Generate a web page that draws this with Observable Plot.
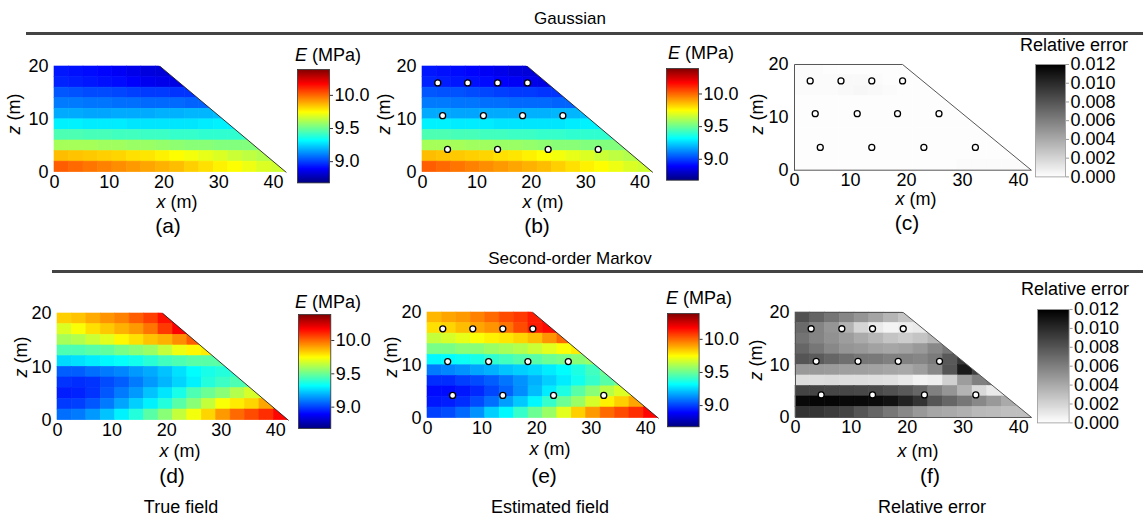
<!DOCTYPE html>
<html><head><meta charset="utf-8">
<script src="https://cdn.jsdelivr.net/npm/d3@7"></script>
<script src="https://cdn.jsdelivr.net/npm/@observablehq/plot@0.6"></script>
<style>
body{margin:0;background:#fff;}
#fig{position:relative;width:1143px;height:518px;font-family:"Liberation Sans",Arial,sans-serif;color:#000;overflow:hidden;background:#fff}
.t{position:absolute;white-space:nowrap;line-height:1}
.rule{position:absolute;height:3px;background:#444}
</style></head><body><div id="fig"></div>
<script>
// ---------- data ----------
const xTicks = [0, 10, 20, 30, 40];
const zTicks = [0, 10, 20];
const eTicks = [9.0, 9.5, 10.0];
const errTicks = [0, 0.002, 0.004, 0.006, 0.008, 0.010, 0.012];
const eDomain = [8.68, 10.39];
const errDomain = [0, 0.012];
const jetColors = ["#00007f", "#0000ff", "#00ffff", "#ffff00", "#ff0000", "#7f0000"];
const jetStops = [0, 0.125, 0.375, 0.625, 0.875, 1];
const greyColors = ["#ffffff", "#000000"];
const crestX = 19.3, toeX = 42.3, damH = 20, nCols = 16, rowH = 2;
const stationX = [2.8, 8.3, 13.8, 19.3, 3.7, 11.2, 18.4, 25.8, 4.6, 13.8, 23.1, 32.3];
const stationZ = [16.9, 16.9, 16.9, 16.9, 10.7, 10.7, 10.7, 10.7, 4.3, 4.3, 4.3, 4.3];

// rows listed from top (z 18-20) to bottom (z 0-2), columns from x = 0
const gaussTrue = [
  [8.93, 8.92, 8.91, 8.90, 8.88, 8.86, 8.84, 8.83, 8.82],
  [8.95, 8.94, 8.93, 8.92, 8.91, 8.89, 8.87, 8.86, 8.85, 8.85],
  [9.04, 9.03, 9.02, 9.02, 9.01, 9.00, 8.99, 8.99, 8.98, 8.98],
  [9.10, 9.10, 9.09, 9.09, 9.08, 9.08, 9.07, 9.07, 9.07, 9.06, 9.06],
  [9.18, 9.18, 9.17, 9.17, 9.18, 9.18, 9.18, 9.19, 9.19, 9.20, 9.20, 9.21],
  [9.30, 9.30, 9.29, 9.29, 9.29, 9.28, 9.28, 9.28, 9.28, 9.28, 9.29, 9.30, 9.30],
  [9.45, 9.45, 9.44, 9.44, 9.43, 9.43, 9.42, 9.42, 9.41, 9.41, 9.40, 9.40, 9.40, 9.41],
  [9.60, 9.60, 9.60, 9.59, 9.59, 9.58, 9.58, 9.57, 9.56, 9.55, 9.55, 9.54, 9.54, 9.54, 9.55],
  [9.86, 9.85, 9.84, 9.83, 9.82, 9.80, 9.79, 9.77, 9.75, 9.73, 9.71, 9.69, 9.66, 9.64, 9.62, 9.60],
  [10.02, 10.00, 9.98, 9.96, 9.94, 9.92, 9.90, 9.88, 9.86, 9.83, 9.80, 9.77, 9.75, 9.72, 9.69, 9.67]
];
const gaussEst = [
  [8.93, 8.92, 8.91, 8.90, 8.88, 8.86, 8.84, 8.83, 8.82],
  [8.95, 8.94, 8.93, 8.92, 8.91, 8.89, 8.88, 8.86, 8.85, 8.85],
  [9.04, 9.03, 9.03, 9.02, 9.01, 9.00, 8.99, 8.99, 8.98, 8.98],
  [9.10, 9.10, 9.09, 9.09, 9.08, 9.08, 9.07, 9.07, 9.07, 9.06, 9.06],
  [9.18, 9.18, 9.17, 9.17, 9.18, 9.18, 9.18, 9.19, 9.19, 9.20, 9.20, 9.21],
  [9.30, 9.30, 9.29, 9.29, 9.29, 9.28, 9.28, 9.28, 9.28, 9.28, 9.29, 9.30, 9.30],
  [9.45, 9.45, 9.44, 9.44, 9.43, 9.43, 9.42, 9.42, 9.41, 9.41, 9.40, 9.40, 9.40, 9.41],
  [9.60, 9.60, 9.60, 9.59, 9.59, 9.58, 9.58, 9.57, 9.56, 9.55, 9.55, 9.54, 9.54, 9.54, 9.55],
  [9.86, 9.85, 9.84, 9.83, 9.82, 9.80, 9.79, 9.77, 9.75, 9.73, 9.71, 9.69, 9.66, 9.64, 9.62, 9.60],
  [10.02, 10.00, 9.98, 9.96, 9.94, 9.92, 9.90, 9.88, 9.86, 9.83, 9.80, 9.77, 9.75, 9.72, 9.69, 9.67]
];
const gaussErr = [
  [0.0002, 0.0002, 0.0001, 0.0001, 0.0001, 0.0001, 0.0001, 0.0001, 0.0001],
  [0.0002, 0.0002, 0.0002, 0.0003, 0.0003, 0.0002, 0.0001, 0.0001, 0.0001, 0.0001],
  [0.0002, 0.0002, 0.0002, 0.0003, 0.0004, 0.0003, 0.0002, 0.0001, 0.0001, 0.0001],
  [0.0001, 0.0001, 0.0001, 0.0001, 0.0001, 0.0001, 0.0001, 0.0001, 0.0001, 0.0001, 0.0001],
  [0.0001, 0.0001, 0.0001, 0.0001, 0.0001, 0.0001, 0.0001, 0.0001, 0.0001, 0.0001, 0.0001, 0.0001],
  [0.0001, 0.0001, 0.0001, 0.0001, 0.0001, 0.0001, 0.0001, 0.0001, 0.0001, 0.0001, 0.0001, 0.0001, 0.0001],
  [0.0001, 0.0001, 0.0001, 0.0001, 0.0001, 0.0001, 0.0001, 0.0001, 0.0001, 0.0001, 0.0001, 0.0001, 0.0001, 0.0001],
  [0.0001, 0.0001, 0.0001, 0.0001, 0.0001, 0.0001, 0.0001, 0.0001, 0.0001, 0.0001, 0.0001, 0.0001, 0.0001, 0.0001, 0.0001],
  [0.0001, 0.0001, 0.0001, 0.0001, 0.0001, 0.0001, 0.0001, 0.0001, 0.0001, 0.0001, 0.0001, 0.0001, 0.0001, 0.0001, 0.0001, 0.0001],
  [0.0001, 0.0001, 0.0001, 0.0001, 0.0001, 0.0001, 0.0001, 0.0001, 0.0001, 0.0001, 0.0001, 0.0002, 0.0002, 0.0002, 0.0002, 0.0002]
];
const markovTrue = [
  [9.83, 9.85, 9.89, 9.93, 9.96, 10.02, 10.07, 10.15, 10.20],
  [9.69, 9.74, 9.80, 9.84, 9.88, 9.92, 9.98, 10.08, 10.18, 10.20],
  [9.60, 9.62, 9.66, 9.70, 9.76, 9.80, 9.85, 9.88, 9.94, 10.02],
  [9.45, 9.45, 9.47, 9.48, 9.52, 9.55, 9.58, 9.65, 9.72, 9.76, 9.78],
  [9.26, 9.27, 9.29, 9.31, 9.33, 9.35, 9.39, 9.43, 9.45, 9.47, 9.47, 9.47],
  [9.05, 9.05, 9.08, 9.10, 9.12, 9.15, 9.18, 9.22, 9.27, 9.32, 9.36, 9.38, 9.40],
  [8.98, 8.97, 8.98, 9.02, 9.05, 9.10, 9.15, 9.20, 9.25, 9.30, 9.38, 9.42, 9.45, 9.48],
  [8.94, 8.95, 8.98, 9.04, 9.10, 9.15, 9.22, 9.28, 9.36, 9.45, 9.50, 9.55, 9.62, 9.68, 9.70],
  [8.99, 9.00, 9.04, 9.10, 9.17, 9.24, 9.30, 9.38, 9.47, 9.55, 9.65, 9.74, 9.78, 9.82, 9.90, 9.96],
  [9.08, 9.10, 9.15, 9.22, 9.30, 9.38, 9.47, 9.55, 9.65, 9.73, 9.82, 9.92, 10.00, 10.05, 10.10, 10.17]
];
const markovEst = [
  [9.87, 9.90, 9.92, 9.96, 10.00, 10.05, 10.08, 10.13, 10.18],
  [9.80, 9.82, 9.86, 9.90, 9.93, 9.98, 10.05, 10.13, 10.16, 10.18],
  [9.65, 9.68, 9.71, 9.74, 9.77, 9.79, 9.82, 9.86, 9.93, 10.00],
  [9.52, 9.52, 9.55, 9.55, 9.58, 9.60, 9.62, 9.66, 9.70, 9.74, 9.78],
  [9.31, 9.32, 9.34, 9.36, 9.40, 9.43, 9.46, 9.47, 9.50, 9.52, 9.55, 9.58],
  [9.10, 9.12, 9.14, 9.17, 9.19, 9.22, 9.24, 9.26, 9.29, 9.32, 9.37, 9.43, 9.50],
  [8.97, 8.97, 9.00, 9.02, 9.05, 9.09, 9.14, 9.19, 9.24, 9.29, 9.35, 9.41, 9.47, 9.52],
  [8.91, 8.91, 8.93, 8.96, 9.01, 9.06, 9.13, 9.21, 9.29, 9.37, 9.47, 9.55, 9.63, 9.69, 9.73],
  [8.93, 8.94, 8.97, 9.02, 9.08, 9.16, 9.23, 9.31, 9.41, 9.50, 9.58, 9.68, 9.77, 9.83, 9.90, 9.95],
  [9.00, 9.02, 9.07, 9.14, 9.24, 9.31, 9.41, 9.50, 9.58, 9.70, 9.83, 9.92, 10.00, 10.05, 10.10, 10.17]
];
const markovErr = [
  [0.0082, 0.0073, 0.0065, 0.0057, 0.0050, 0.0043, 0.0035, 0.0028, 0.0022],
  [0.0070, 0.0058, 0.0050, 0.0036, 0.0020, 0.0010, 0.0005, 0.0008, 0.0010, 0.0012],
  [0.0066, 0.0058, 0.0052, 0.0046, 0.0040, 0.0034, 0.0028, 0.0024, 0.0028, 0.0034],
  [0.0072, 0.0064, 0.0056, 0.0050, 0.0048, 0.0044, 0.0042, 0.0044, 0.0048, 0.0056, 0.0064],
  [0.0080, 0.0077, 0.0072, 0.0068, 0.0064, 0.0063, 0.0060, 0.0059, 0.0057, 0.0062, 0.0078, 0.0094],
  [0.0048, 0.0048, 0.0047, 0.0045, 0.0045, 0.0044, 0.0042, 0.0041, 0.0046, 0.0056, 0.0080, 0.0108, 0.0090],
  [0.0016, 0.0016, 0.0017, 0.0016, 0.0016, 0.0015, 0.0014, 0.0011, 0.0006, 0.0008, 0.0022, 0.0046, 0.0060, 0.0064],
  [0.0088, 0.0088, 0.0087, 0.0087, 0.0086, 0.0085, 0.0082, 0.0078, 0.0072, 0.0060, 0.0050, 0.0036, 0.0018, 0.0010, 0.0012],
  [0.0116, 0.0117, 0.0117, 0.0116, 0.0116, 0.0115, 0.0112, 0.0104, 0.0096, 0.0080, 0.0072, 0.0064, 0.0056, 0.0048, 0.0040, 0.0034],
  [0.0096, 0.0095, 0.0092, 0.0088, 0.0080, 0.0072, 0.0064, 0.0056, 0.0048, 0.0042, 0.0040, 0.0037, 0.0033, 0.0032, 0.0030, 0.0030]
];

// ---------- helpers ----------
const FONT = '"Liberation Sans", Arial, sans-serif';
const fig = document.getElementById("fig");
const stations = stationX.map((x, i) => ({x, z: stationZ[i]}));
const slopeEdge = [{x: toeX, z: 0}, {x: crestX, z: damH}];
// mask edge follows the slope slightly past the crest so cell strokes above it are hidden
const slopeRun = (toeX - crestX) / damH;
const maskEdge = [{x: toeX + slopeRun * 0.4, z: -0.4}, {x: crestX - slopeRun * 0.4, z: damH + 0.4}];
const outline = [{x: 0, z: 0}, {x: 0, z: damH}, {x: crestX, z: damH}, {x: toeX, z: 0}, {x: 0, z: 0}];

const eColor = {type: "linear", domain: jetStops.map(s => eDomain[0] + s * (eDomain[1] - eDomain[0])), range: jetColors, interpolate: "rgb", clamp: true};
const errColor = {type: "linear", domain: errDomain, range: greyColors, interpolate: "rgb", clamp: true};

function cellsOf(rows) {
  const w = toeX / nCols;
  const out = [];
  rows.forEach((row, i) => {
    const r = rows.length - 1 - i;
    row.forEach((v, c) => out.push({x1: c * w, x2: (c + 1) * w, y1: r * rowH, y2: (r + 1) * rowH, v}));
  });
  return out;
}

function put(el, left, top) {
  el.style.position = "absolute";
  el.style.left = left + "px";
  el.style.top = top + "px";
  fig.appendChild(el);
}

function text(html, x, y, size, opts = {}) {
  const d = document.createElement("div");
  d.className = "t";
  d.innerHTML = html;
  d.style.fontSize = size + "px";
  d.style.left = x + "px";
  d.style.top = y + "px";
  const ax = opts.anchor === "start" ? "0" : "-50%";
  d.style.transform = `translate(${ax},-50%)` + (opts.rotate ? ` rotate(${opts.rotate}deg)` : "");
  fig.appendChild(d);
}

function fieldPanel(p) {
  const mL = 55, mR = 22, mT = 12, mB = 26;
  const fw = p.X40 - p.X0, fh = p.Y0 - p.Y20;
  const chart = Plot.plot({
    width: mL + fw + mR, height: mT + fh + mB,
    marginLeft: mL, marginRight: mR, marginTop: mT, marginBottom: mB,
    x: {domain: [0, 40]}, y: {domain: [0, 20]},
    color: p.kind === "E" ? eColor : errColor,
    style: {background: "transparent", fontFamily: FONT, color: "#000"},
    marks: [
      Plot.rect(cellsOf(p.vals), {x1: "x1", x2: "x2", y1: "y1", y2: "y2", fill: "v", stroke: "v", strokeWidth: 0.6}),
      Plot.areaX(maskEdge, {y: "z", x1: "x", x2: 44.5, fill: "white"}),
      p.kind === "E"
        ? Plot.line(slopeEdge, {x: "x", y: "z", stroke: "#222", strokeWidth: 0.9})
        : Plot.line(outline, {x: "x", y: "z", stroke: "#555", strokeWidth: 1}),
      p.dots ? Plot.dot(stations, {x: "x", y: "z", r: 3, fill: "white", stroke: "black", strokeWidth: 1.3}) : null,
      Plot.axisX({ticks: xTicks, tickSize: 0, tickPadding: 3, fontSize: 18, label: null}),
      Plot.axisY({ticks: zTicks, tickSize: 0, tickPadding: 6, fontSize: 18, label: null})
    ]
  });
  put(chart, p.X0 - mL, p.Y20 - mT);
}

function colorbar(p) {
  const mL = 2, mR = 74, mT = 10, mB = 10;
  const isE = p.kind === "E";
  const dom = isE ? eDomain : errDomain;
  const chart = Plot.plot({
    width: mL + (p.R - p.L) + mR, height: mT + (p.B - p.T) + mB,
    marginLeft: mL, marginRight: mR, marginTop: mT, marginBottom: mB,
    x: {domain: [0, 1], axis: null}, y: {domain: dom, axis: null},
    color: isE ? eColor : errColor,
    style: {background: "transparent", fontFamily: FONT, color: "#000"},
    marks: [
      Plot.raster({fill: (x, y) => y, x1: 0, x2: 1, y1: dom[0], y2: dom[1], width: 2, height: 240}),
      Plot.frame({stroke: isE ? "#333" : "#999", strokeWidth: 0.8}),
      Plot.axisY({anchor: "right", ticks: isE ? eTicks : errTicks, tickFormat: isE ? d3.format(".1f") : d3.format(".3f"),
                  tickSize: 3, tickPadding: 2, fontSize: 18, label: null, stroke: isE ? "#333" : "#999"})
    ]
  });
  put(chart, p.L - mL, p.T - mT);
}

// ---------- panels ----------
const panels = [
  {vals: gaussTrue, kind: "E", dots: false, X0: 54.3, X40: 273.3, Y0: 171.7, Y20: 66},
  {vals: gaussEst, kind: "E", dots: true, X0: 421.7, X40: 639.3, Y0: 171.7, Y20: 66},
  {vals: gaussErr, kind: "err", dots: true, X0: 794.3, X40: 1018.3, Y0: 170, Y20: 64.3},
  {vals: markovTrue, kind: "E", dots: false, X0: 56.7, X40: 275, Y0: 420, Y20: 313.3},
  {vals: markovEst, kind: "E", dots: true, X0: 426.7, X40: 645, Y0: 417.3, Y20: 311.7},
  {vals: markovErr, kind: "err", dots: true, X0: 795, X40: 1018.3, Y0: 416.7, Y20: 311.7}
];
panels.forEach(fieldPanel);

const bars = [
  {kind: "E", L: 297, R: 329, T: 69.3, B: 182.7},
  {kind: "E", L: 666, R: 698, T: 68.3, B: 180},
  {kind: "err", L: 1035, R: 1065, T: 64.3, B: 176.7},
  {kind: "E", L: 297.7, R: 330, T: 314.3, B: 428.3},
  {kind: "E", L: 666.7, R: 698.3, T: 312.7, B: 426},
  {kind: "err", L: 1036.7, R: 1068.3, T: 309.3, B: 422.7}
];
bars.forEach(colorbar);

// ---------- text ----------
const eTitle = '<i>E</i> (MPa)';
text(eTitle, 295, 55, 18, {anchor: "start"});
text(eTitle, 668, 53, 18, {anchor: "start"});
text("Relative error", 1074, 45, 18);
text(eTitle, 295, 302, 18, {anchor: "start"});
text(eTitle, 666, 298, 18, {anchor: "start"});
text("Relative error", 1075, 289, 18);

const xLab = '<i>x</i> (m)', zLab = '<i>z</i> (m)';
[[177, 202], [543, 202], [916, 199], [180, 451], [550, 449], [918, 451]].forEach(([x, y]) => text(xLab, x, y, 18));
[[14, 114], [384, 114], [757, 114], [21, 357], [391, 357], [756, 360]].forEach(([x, y]) => text(zLab, x, y, 18, {rotate: -90}));
[["(a)", 168, 225], ["(b)", 537, 225], ["(c)", 907, 222], ["(d)", 172, 475], ["(e)", 544, 475], ["(f)", 930, 475]]
  .forEach(([s, x, y]) => text(s, x, y, 21));

text("Gaussian", 570, 18, 17);
text("Second-order Markov", 570, 258, 17);
text("True field", 181, 507, 18);
text("Estimated field", 550, 507, 18);
text("Relative error", 932, 507, 18);

const r1 = document.createElement("div"); r1.className = "rule"; r1.style.width = (1143 - 26) + "px"; put(r1, 26, 32);
const r2 = document.createElement("div"); r2.className = "rule"; r2.style.width = (1143 - 52) + "px"; put(r2, 52, 270);
</script></body></html>
